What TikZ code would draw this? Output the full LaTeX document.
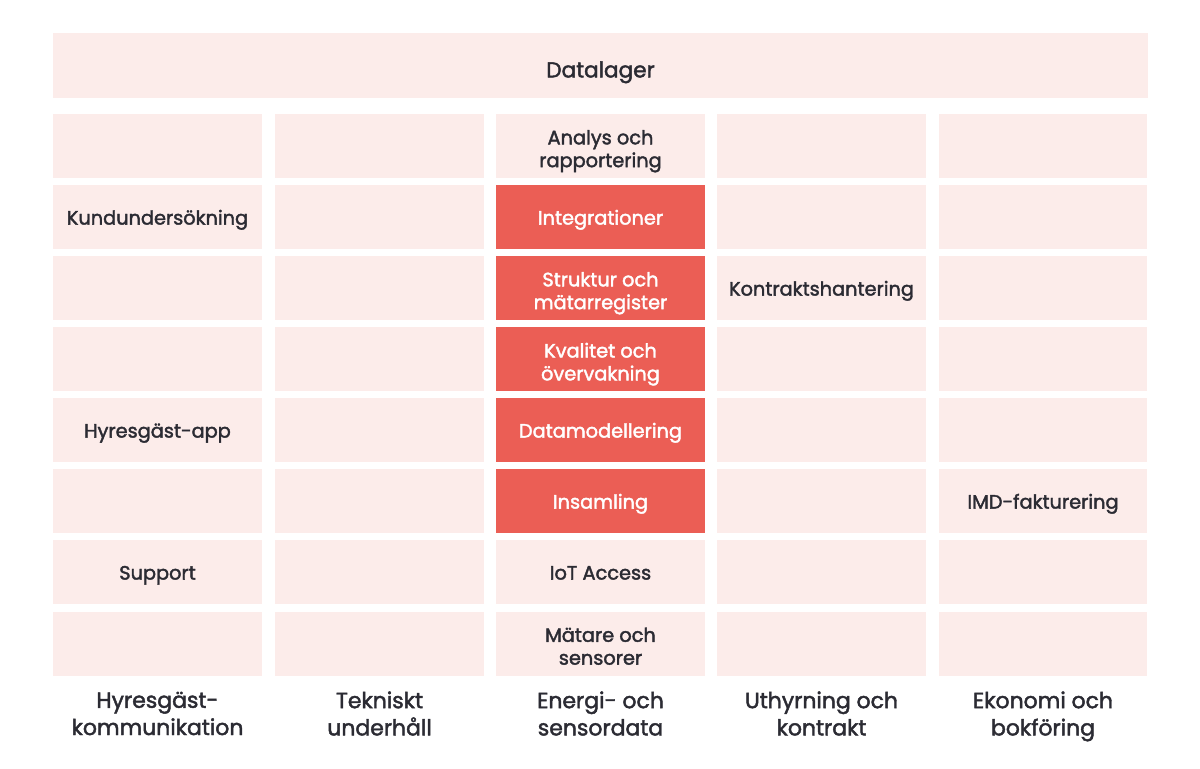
\documentclass[tikz,border=0pt]{standalone}
\usepackage{fontspec}
\setmainfont{Poppins}[FakeBold=2]
\usetikzlibrary{positioning}
\definecolor{cellpink}{HTML}{FCECEA}
\definecolor{cellred}{HTML}{EB5E55}
\definecolor{textdark}{HTML}{2B2B33}
\tikzset{
  cell/.style={fill=cellpink,minimum width=4.18cm,minimum height=1.28cm,inner sep=0pt},
  celltext/.style={text=textdark,align=center,inner sep=0pt,yshift=-0.06cm,
    font=\fontsize{11}{13}\selectfont,
    execute at begin node=\strut,execute at end node=\strut},
  twoline/.style={yshift=-0.06cm},
  hottext/.style={celltext,text=white},
  collabel/.style={text=textdark,align=center,font=\fontsize{12.5}{15.5}\selectfont,
    execute at begin node=\strut,execute at end node=\strut}
}
\begin{document}
\begin{tikzpicture}[x=0.02cm,y=-0.02cm]
    \useasboundingbox (0,0) rectangle (1200,768);
    % top store
    \node[cell,minimum width=21.9cm,minimum height=1.3cm] (store) at (600.5,65.5) {};
    \node[celltext,yshift=-0.08cm,font=\fontsize{12.3}{14}\selectfont] (store-text) at (store) {Datalager};

    % empty grid
    \foreach \i/\x in {1/157.5,2/379.5,3/600.5,4/821.5,5/1043}
      \foreach \j/\y in {1/146,2/217,3/288,4/359,5/430,6/501,7/572,8/643.5}
        \node[cell] (c-\i-\j) at (\x,\y) {};
    \foreach \j in {2,...,6}
      \fill[cellred] (c-3-\j.south west) rectangle (c-3-\j.north east);

    % first column
    \node[celltext] (survey) at (c-1-2) {Kundundersökning};
    \node[celltext] (app) at (c-1-5) {Hyresgäst-app};
    \node[celltext] (support) at (c-1-7) {Support};

    % energy column
    \node[celltext,twoline] (analysis) at (c-3-1) {Analys och\\rapportering};
    \node[hottext] (integr) at (c-3-2) {Integrationer};
    \node[hottext,twoline] (struct) at (c-3-3) {Struktur och\\mätarregister};
    \node[hottext,twoline] (quality) at (c-3-4) {Kvalitet och\\övervakning};
    \node[hottext] (model) at (c-3-5) {Datamodellering};
    \node[hottext] (collect) at (c-3-6) {Insamling};
    \node[celltext] (iot) at (c-3-7) {IoT Access};
    \node[celltext,twoline] (meters) at (c-3-8) {Mätare och\\sensorer};

    % other columns
    \node[celltext] (contract) at (c-4-3) {Kontraktshantering};
    \node[celltext] (billing) at (c-5-6) {IMD-fakturering};

    % column labels
    \node[collabel] (lab-1) at (157.5,717.5) {Hyresgäst-\\kommunikation};
    \node[collabel] (lab-2) at (379.5,717.5) {Tekniskt\\underhåll};
    \node[collabel] (lab-3) at (600.5,717.5) {Energi- och\\sensordata};
    \node[collabel] (lab-4) at (821.5,717.5) {Uthyrning och\\kontrakt};
    \node[collabel] (lab-5) at (1043,717.5) {Ekonomi och\\bokföring};
  \end{tikzpicture}
\end{document}
